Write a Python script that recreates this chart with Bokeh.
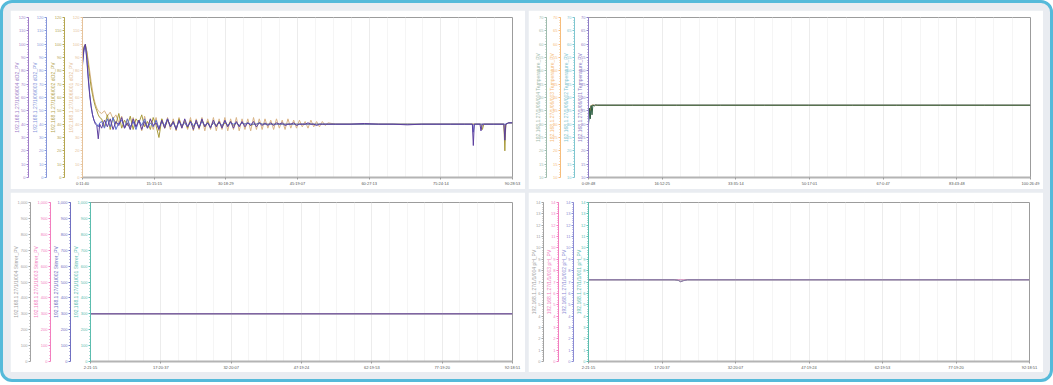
from bokeh.plotting import figure
from bokeh.models import LinearAxis, FixedTicker, Range1d
from bokeh.layouts import row, column
from bokeh.embed import file_html
from bokeh.resources import INLINE

FONT = "Liberation Sans"

# ---------------- Panel 1 : dO2 ----------------
p1_xticks = [0, 15, 30, 45, 60, 75, 90]
p1_xlabels = ["0:11:40", "15:15:15", "30:18:29", "45:19:07", "60:27:13", "75:24:14", "90:28:53"]
p1_yticks = list(range(0, 121, 10))
p1_axis_labels = ["192.168.1.27/1/06/001 dO2_PV", "192.168.1.27/1/06/002 dO2_PV",
                  "192.168.1.27/1/06/003 dO2_PV", "192.168.1.27/1/06/004 dO2_PV"]
p1_axis_colors = ["#e6c39b", "#b5a651", "#8797da", "#a07fc9"]
p1_line_colors = ["#d8b386", "#a89a3b", "#5b6fd0", "#5c3f9e"]

p1_t_early = [0, 0.3, 0.6, 0.9, 1.2, 1.5, 1.8, 2.1, 2.4, 2.7, 3.0, 3.3, 3.6]
p1_t_band = [round(4.0 + 0.6 * i, 1) for i in range(80)]
p1_t_late = [53, 56, 59, 62, 65, 68, 71, 74, 77, 80, 81.6, 81.8, 82.0, 82.3, 83.2, 83.4,
             83.7, 84.0, 86, 88.2, 88.4, 88.6, 89.2, 90]
p1_time = p1_t_early + p1_t_band + p1_t_late

tan_001 = [88, 96, 99, 95, 88, 80, 72, 65, 59, 55, 52, 50, 49,
           48, 50, 46, 49, 44, 47, 41, 46, 37, 44,
           36, 45, 38, 43, 35, 46, 37, 44, 36, 45,
           35, 44, 37, 45, 36, 44, 35, 45, 37, 43,
           36, 45, 35, 44, 36, 45, 35, 44, 36, 45,
           35, 44, 36, 45, 35, 44, 36, 45, 35, 44,
           36, 44, 35, 45, 36, 44, 36, 44, 37, 43,
           36, 44, 37, 43, 36, 44, 37, 43, 37, 43,
           38, 42, 37, 43, 38, 42, 38, 42, 39, 41,
           40, 40, 40, 40, 40, 40, 40, 40, 40, 40, 40, 40, 40, 40, 40, 40,
           40, 40, 40, 40, 30, 40, 41, 41]
olive_002 = [90, 98, 100, 94, 85, 76, 68, 62, 57, 53, 50, 47, 45,
             44, 38, 47, 36, 45, 40, 48, 37, 43, 39,
             46, 36, 44, 41, 47, 38, 42, 36, 45, 39,
             30, 44, 37, 43, 39, 42, 36, 44, 38, 42,
             37, 43, 38, 42, 37, 43, 38, 42, 38, 41,
             39, 42, 38, 41, 39, 42, 39, 41, 39, 41,
             40, 41, 39, 40, 40, 41, 40, 40, 40, 40,
             40, 40, 40, 40, 40, 40, 40, 40, 40, 40,
             40, 40, 40, 40, 40, 40, 40, 40, 40, 40,
             40, 40, 40, 40, 40, 40, 40, 40, 40, 40, 40, 40, 40, 40, 40, 40,
             36, 40, 40, 40, 20, 40, 41, 41]
blue_003 = [84, 95, 99, 90, 76, 63, 54, 47, 43, 41, 40, 38, 41,
            42, 37, 44, 38, 45, 36, 41, 43, 37, 44,
            38, 42, 36, 43, 39, 44, 37, 41, 38, 43,
            37, 42, 39, 44, 38, 41, 37, 42, 39, 41,
            38, 42, 39, 41, 38, 42, 39, 41, 38, 41,
            39, 41, 39, 42, 39, 41, 40, 41, 39, 41,
            40, 41, 40, 40, 40, 41, 40, 40, 40, 40,
            40, 40, 40, 40, 40, 40, 40, 40, 40, 40,
            40, 40, 40, 40, 40, 40, 40, 40, 40, 40,
            40, 40, 40, 40, 40, 40, 40, 40, 40, 40, 40, 34, 40, 40, 40, 40,
            40, 40, 40, 40, 40, 40, 41, 41]
purple_004 = [86, 97, 100, 88, 74, 62, 53, 47, 43, 40, 39, 29, 40,
              37, 43, 38, 44, 36, 42, 39, 45, 37, 41,
              36, 44, 38, 43, 36, 42, 37, 44, 39, 41,
              36, 43, 37, 44, 38, 42, 36, 43, 37, 44,
              38, 42, 36, 43, 37, 44, 38, 41, 37, 43,
              38, 42, 37, 43, 38, 42, 37, 42, 38, 42,
              38, 41, 39, 42, 38, 41, 39, 41, 39, 41,
              39, 41, 40, 41, 39, 40, 40, 41, 39, 40,
              40, 40, 41, 40, 40, 39, 40, 40, 40, 40,
              40, 40, 40.5, 40, 40, 39.5, 40, 40, 40, 40, 40, 24, 40, 40, 40, 35,
              40, 40, 40, 40, 28, 40, 41, 41]
p1_series = [tan_001, olive_002, blue_003, purple_004]

# ---------------- Panel 2 : Temperature ----------------
p2_xticks = [0, 16.75, 33.5, 50.25, 67, 83.75, 100.5]
p2_xlabels = ["0:09:48", "16:52:25", "33:35:14", "50:17:01", "67:0:47", "83:43:48", "100:26:49"]
p2_yticks = list(range(10, 71, 5))
p2_axis_labels = ["192.168.1.27/1/06/001 Temperature_PV", "192.168.1.27/1/06/002 Temperature_PV",
                  "192.168.1.27/1/06/003 Temperature_PV", "192.168.1.27/1/06/004 Temperature_PV"]
p2_axis_colors = ["#8f7fc6", "#7fc6cf", "#f6bd7c", "#9fbcae"]
p2_line_colors = ["#7a68b8", "#5fb3bf", "#e9a95e", "#2f5e40"]
p2_time = [0, 0.2, 0.4, 0.6, 0.8, 1.0, 1.3, 1.6, 2.0, 10, 20, 30, 40, 50, 60, 70, 80, 90, 100.5]
temp_001 = [31, 34, 36, 36.8, 37.0, 37.1, 37.1, 37.1, 37.1, 37.1, 37.1, 37.1, 37.1, 37.1, 37.1, 37.1, 37.1, 37.1, 37.1]
temp_002 = [30, 35, 33, 36.5, 36.9, 37.1, 37.0, 37.1, 37.1, 37.1, 37.1, 37.1, 37.1, 37.1, 37.1, 37.1, 37.1, 37.1, 37.1]
temp_003 = [32, 36, 35, 37.0, 37.1, 37.2, 37.1, 37.1, 37.1, 37.1, 37.1, 37.1, 37.1, 37.1, 37.1, 37.1, 37.1, 37.1, 37.1]
temp_004 = [30, 36, 32, 37.0, 33.5, 37.2, 36.8, 37.2, 37.1, 37.1, 37.1, 37.1, 37.1, 37.1, 37.1, 37.1, 37.1, 37.1, 37.1]
p2_series = [temp_001, temp_002, temp_003, temp_004]

# ---------------- Panel 3 : Stirrer ----------------
p3_xticks = [0, 15, 30, 45, 60, 75, 90]
p3_xlabels = ["2:21:15", "17:20:37", "32:20:07", "47:19:24", "62:19:53", "77:19:20", "92:18:51"]
p3_yticks = list(range(0, 1001, 100))
p3_axis_labels = ["192.168.1.27/1/1/001 Stirrer_PV", "192.168.1.27/1/1/002 Stirrer_PV",
                  "192.168.1.27/1/1/003 Stirrer_PV", "192.168.1.27/1/1/004 Stirrer_PV"]
p3_axis_colors = ["#5cbdaf", "#7070c2", "#f27fbf", "#a3a3a3"]
p3_line_colors = ["#5cbdaf", "#f27fbf", "#a3a3a3", "#6a4e9e"]
p3_time = [0, 15, 30, 45, 60, 75, 90]
stir_001 = [300, 300, 300, 300, 300, 300, 300]
stir_002 = [300, 300, 300, 300, 300, 300, 300]
stir_003 = [300, 300, 300, 300, 300, 300, 300]
stir_004 = [300, 300, 300, 300, 300, 300, 300]
p3_series = [stir_001, stir_002, stir_003, stir_004]

# ---------------- Panel 4 : pH ----------------
p4_xticks = [0, 15, 30, 45, 60, 75, 90]
p4_xlabels = ["2:21:15", "17:20:37", "32:20:07", "47:19:24", "62:19:53", "77:19:20", "92:18:51"]
p4_yticks = list(range(0, 15, 1))
p4_axis_labels = ["192.168.1.27/1/1/001 pH_PV", "192.168.1.27/1/1/002 pH_PV",
                  "192.168.1.27/1/1/003 pH_PV", "192.168.1.27/1/1/004 pH_PV"]
p4_axis_colors = ["#5cbdaf", "#8c8cd4", "#f27fbf", "#a3a3a3"]
p4_line_colors = ["#5cbdaf", "#f27fbf", "#9a9a9a", "#8a78a8"]
p4_time = [0, 10, 17.5, 18.3, 18.8, 19.4, 20.2, 30, 45, 60, 75, 90]
ph_001 = [7.18, 7.18, 7.18, 7.18, 7.18, 7.18, 7.18, 7.18, 7.18, 7.18, 7.18, 7.18]
ph_002 = [7.19, 7.19, 7.19, 7.19, 7.19, 7.19, 7.19, 7.19, 7.19, 7.19, 7.19, 7.19]
ph_003 = [7.2, 7.2, 7.2, 7.14, 7.03, 7.12, 7.2, 7.2, 7.2, 7.2, 7.2, 7.2]
ph_004 = [7.2, 7.2, 7.2, 7.15, 7.02, 7.12, 7.2, 7.2, 7.2, 7.2, 7.2, 7.2]
p4_series = [ph_001, ph_002, ph_003, ph_004]


def minor_between(ticks, n):
    out = []
    for a, b in zip(ticks[:-1], ticks[1:]):
        for k in range(1, n + 1):
            out.append(a + (b - a) * k / (n + 1))
    return out


def style_y(ax, label, color, ticks, minor, overrides, lab_standoff):
    ax.ticker = FixedTicker(ticks=ticks, minor_ticks=minor)
    ax.axis_label = label
    ax.axis_label_text_font = FONT
    ax.axis_label_text_font_size = "5px"
    ax.axis_label_text_font_style = "normal"
    ax.axis_label_text_color = color
    ax.axis_label_standoff = lab_standoff
    ax.axis_line_color = color
    ax.axis_line_width = 1
    ax.major_tick_line_color = color
    ax.minor_tick_line_color = color
    ax.major_tick_in = 0
    ax.major_tick_out = 2
    ax.minor_tick_in = 0
    ax.minor_tick_out = 1
    ax.major_label_text_font = FONT
    ax.major_label_text_font_size = "4px"
    ax.major_label_text_color = color
    ax.major_label_standoff = 1
    if overrides:
        ax.major_label_overrides = overrides


def build(width, height, borders, times, series, line_colors, xticks, xlabels,
          yticks, ystep_minor, axis_labels, axis_colors, lab_standoff, overrides=None):
    mbl, mbt, mbr, mbb = borders
    p = figure(width=width, height=height, output_backend="svg", toolbar_location=None,
               x_range=Range1d(xticks[0], xticks[-1]), y_range=Range1d(yticks[0], yticks[-1]),
               min_border_left=mbl, min_border_top=mbt, min_border_right=mbr,
               min_border_bottom=mbb, background_fill_color="white",
               border_fill_color="white")
    p.outline_line_color = "#9c9c9c"
    p.outline_line_width = 1

    xa = p.xaxis[0]
    xa.ticker = FixedTicker(ticks=xticks, minor_ticks=minor_between(xticks, 3))
    xa.major_label_overrides = dict(zip(xticks, xlabels))
    xa.axis_line_color = "#b4b4b4"
    xa.axis_line_width = 2
    xa.major_tick_line_color = "#9c9c9c"
    xa.major_tick_in = 0
    xa.major_tick_out = 2
    xa.minor_tick_out = 0
    xa.minor_tick_in = 0
    xa.major_label_text_font = FONT
    xa.major_label_text_font_size = "4px"
    xa.major_label_text_color = "#555555"
    xa.major_label_standoff = 1

    p.xgrid.grid_line_color = "#ececec"
    p.xgrid.minor_grid_line_color = "#f5f5f5"
    p.ygrid.grid_line_color = None

    yminor = []
    v = yticks[0]
    while v < yticks[-1] - 1e-9:
        v = round(v + ystep_minor, 4)
        yminor.append(v)

    for i, (lab, col) in enumerate(zip(axis_labels, axis_colors)):
        ax = p.yaxis[0] if i == 0 else LinearAxis()
        style_y(ax, lab, col, yticks, yminor, overrides, lab_standoff)
        if i > 0:
            p.add_layout(ax, "left")

    for ys, col in zip(series, line_colors):
        p.line(times, ys, line_color=col, line_width=1)
    return p


p1 = build(515, 179, (70, 7, 13, 12), p1_time, p1_series, p1_line_colors, p1_xticks, p1_xlabels,
           p1_yticks, 2, p1_axis_labels, p1_axis_colors, -4)
p2 = build(515, 179, (60, 7, 13, 12), p2_time, p2_series, p2_line_colors, p2_xticks, p2_xlabels,
           p2_yticks, 1, p2_axis_labels, p2_axis_colors, -5)
p3 = build(515, 180, (79, 10, 13, 10), p3_time, p3_series, p3_line_colors, p3_xticks, p3_xlabels,
           p3_yticks, 20, p3_axis_labels, p3_axis_colors, -5, overrides={1000: "1,000"})
p4 = build(515, 180, (60, 10, 14, 10), p4_time, p4_series, p4_line_colors, p4_xticks, p4_xlabels,
           p4_yticks, 0.2, p4_axis_labels, p4_axis_colors, -4)

root = column(row(p1, p2, spacing=3), row(p3, p4, spacing=3), spacing=3,
              styles={"background-color": "#e9ecf1", "padding": "7px",
                      "border": "3px solid #55bada", "border-radius": "12px"})

open("out.html", "w").write(file_html(root, INLINE))
